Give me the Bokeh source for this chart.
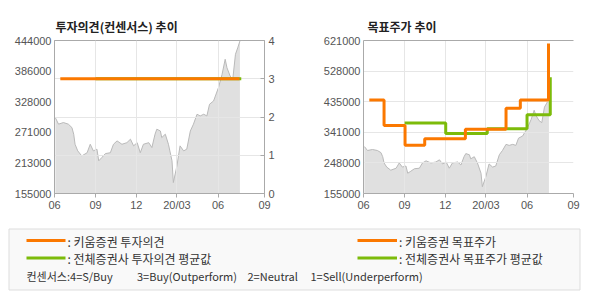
import pandas as pd
from bokeh.plotting import figure
from bokeh.models import Range1d, LinearAxis, FixedTicker, Grid, Title, BasicTickFormatter
from bokeh.layouts import column, row
from bokeh.embed import file_html
from bokeh.resources import INLINE
from bokeh.core.properties import value

# ---------------- data ----------------
price_dates = [
    "2019-06-03", "2019-06-10", "2019-06-21", "2019-07-02", "2019-07-10", "2019-07-14",
    "2019-07-17", "2019-07-23", "2019-08-01", "2019-08-13", "2019-08-20", "2019-08-27",
    "2019-09-04", "2019-09-08", "2019-09-15", "2019-09-23", "2019-10-04", "2019-10-11",
    "2019-10-19", "2019-10-30", "2019-11-10", "2019-11-18", "2019-11-25", "2019-12-03",
    "2019-12-10", "2019-12-17", "2019-12-29", "2020-01-05", "2020-01-12", "2020-01-16",
    "2020-01-24", "2020-01-27", "2020-02-04", "2020-02-11", "2020-02-19", "2020-02-22",
    "2020-03-01", "2020-03-08", "2020-03-16", "2020-03-23", "2020-03-31", "2020-04-07",
    "2020-04-15", "2020-04-22", "2020-04-30", "2020-05-07", "2020-05-13", "2020-05-22",
    "2020-06-02", "2020-06-10", "2020-06-17", "2020-06-21", "2020-06-28", "2020-07-04",
    "2020-07-10", "2020-07-15", "2020-07-20",
]
price_values = [
    298000, 286000, 289000, 286000, 279500, 267000,
    248000, 235500, 226000, 232000, 248000, 235500,
    238700, 216700, 223000, 230400, 232000, 248000,
    254400, 248000, 251000, 257600, 245000, 251000,
    232000, 248000, 251000, 241800, 267000, 276500,
    273000, 260600, 267000, 248000, 216700, 175700,
    207200, 245000, 235500, 238700, 273000, 286000,
    304700, 301500, 304700, 301500, 323600, 329800,
    355000, 380000, 408500, 392600, 377000, 370800,
    418000, 430000, 443000,
]

opinion_kiwoom_dates = ["2019-06-14", "2020-07-19"]
opinion_kiwoom_values = [3, 3]
opinion_all_dates = ["2019-09-01", "2020-07-23"]
opinion_all_values = [3, 3]

target_kiwoom_dates = ["2019-06-14", "2019-07-17", "2019-09-02", "2019-10-16",
                       "2020-01-15", "2020-04-15", "2020-05-17", "2020-07-19"]
target_kiwoom_values = [440000, 362000, 302000, 322000, 351000, 415000, 440000, 612000]
target_all_dates = ["2019-09-01", "2019-12-02", "2020-03-04", "2020-06-01", "2020-07-23"]
target_all_values = [370000, 338000, 352000, 395000, 509000]

x_tick_dates = ["2019-06-01", "2019-09-01", "2019-12-01", "2020-03-01", "2020-06-01", "2020-09-13"]
x_tick_labels = ["06", "09", "12", "20/03", "06", "09"]
left_price_ticks = [155000, 213000, 271000, 328000, 386000, 444000]
opinion_ticks = [0, 1, 2, 3, 4]
right_price_ticks = [155000, 248000, 341000, 435000, 528000, 621000]

title_left = "투자의견(컨센서스) 추이"
title_right = "목표주가 추이"
legend_labels = [": 키움증권 투자의견", ": 전체증권사 투자의견 평균값",
                 ": 키움증권 목표주가", ": 전체증권사 목표주가 평균값"]
footnote_parts = ["컨센서스:4=S/Buy", "3=Buy(Outperform)", "2=Neutral", "1=Sell(Underperform)"]

# ---------------- style ----------------
ORANGE = "#fb7800"
GREEN = "#7cbb0a"
AXIS = "#aaaaaa"
GRID = "#e6e6e6"
TICK_TXT = "#555555"
KFONT = "Noto Sans CJK KR"
NFONT = "Liberation Sans"

def ms(d):
    return int(pd.Timestamp(d).value // 10**6)

tick_ms = [ms(d) for d in x_tick_dates]
overrides = {t: lab for t, lab in zip(tick_ms, x_tick_labels)}

pdates = pd.to_datetime(price_dates)


def base_fig(ymin, ymax, yticks, border_left, border_right, title, title_offset):
    p = figure(width=295, height=220, output_backend="svg", toolbar_location=None,
               x_axis_type="datetime",
               x_range=Range1d(tick_ms[0], tick_ms[-1]),
               y_range=Range1d(ymin, ymax),
               min_border_left=border_left, min_border_right=border_right,
               min_border_top=40, min_border_bottom=27)
    p.title = Title(text=title, align="left", offset=title_offset,
                    text_font=KFONT, text_font_size="12px", text_font_style="bold",
                    text_color="#222222", standoff=12)
    p.background_fill_color = "white"
    p.border_fill_color = "white"
    xa = p.xaxis[0]
    xa.ticker = FixedTicker(ticks=tick_ms)
    xa.major_label_overrides = overrides
    xa.axis_line_color = AXIS
    xa.major_tick_line_color = AXIS
    xa.major_tick_out = 4
    xa.major_tick_in = 0
    xa.minor_tick_line_color = None
    xa.major_label_standoff = 1
    xa.major_label_text_font = NFONT
    xa.major_label_text_font_size = "11px"
    xa.major_label_text_color = TICK_TXT
    ya = p.yaxis[0]
    ya.ticker = FixedTicker(ticks=yticks)
    ya.formatter = BasicTickFormatter(use_scientific=False)
    ya.axis_line_color = AXIS
    ya.major_tick_line_color = None
    ya.major_tick_out = 0
    ya.major_tick_in = 0
    ya.minor_tick_line_color = None
    ya.major_label_standoff = 3
    ya.major_label_text_font = NFONT
    ya.major_label_text_font_size = "11px"
    ya.major_label_text_color = TICK_TXT
    p.xgrid.ticker = FixedTicker(ticks=tick_ms)
    p.xgrid.grid_line_color = GRID
    p.ygrid.ticker = FixedTicker(ticks=yticks)
    p.ygrid.grid_line_color = GRID
    p.outline_line_color = None
    # price area
    p.varea(x=pdates, y1=yticks[0], y2=price_values, fill_color="#e0e0e0", level="image")
    p.line(x=pdates, y=price_values, line_color="#b9b9b9", line_width=1, level="image")
    return p

# ---- left chart ----
p1 = base_fig(left_price_ticks[0], left_price_ticks[-1], left_price_ticks, 54, 31, title_left, 1)
p1.ygrid.visible = False
p1.outline_line_color = AXIS
p1.extra_y_ranges = {"op": Range1d(opinion_ticks[0], opinion_ticks[-1])}
ra = LinearAxis(y_range_name="op", ticker=FixedTicker(ticks=opinion_ticks))
ra.axis_line_color = AXIS
ra.major_tick_line_color = AXIS
ra.major_tick_in = 4
ra.major_tick_out = 0
ra.minor_tick_line_color = None
ra.major_label_standoff = 4
ra.major_label_text_font = NFONT
ra.major_label_text_font_size = "11px"
ra.major_label_text_color = TICK_TXT
p1.add_layout(ra, "right")
p1.add_layout(Grid(dimension=1, ticker=FixedTicker(ticks=opinion_ticks), y_range_name="op",
                   grid_line_color=GRID))
p1.step(x=pd.to_datetime(opinion_all_dates), y=opinion_all_values, mode="after",
        line_color=GREEN, line_width=3, y_range_name="op")
p1.step(x=pd.to_datetime(opinion_kiwoom_dates), y=opinion_kiwoom_values, mode="after",
        line_color=ORANGE, line_width=3, y_range_name="op")

# ---- right chart ----
p2 = base_fig(right_price_ticks[0], right_price_ticks[-1], right_price_ticks, 68, 17, title_right, 4)
ta = LinearAxis(ticker=FixedTicker(ticks=[]), axis_line_color=AXIS,
                major_tick_line_color=None, minor_tick_line_color=None,
                major_label_text_font_size="0px")
p2.add_layout(ta, "above")
p2.step(x=pd.to_datetime(target_all_dates), y=target_all_values, mode="after",
        line_color=GREEN, line_width=3)
p2.step(x=pd.to_datetime(target_kiwoom_dates), y=target_kiwoom_values, mode="after",
        line_color=ORANGE, line_width=3)

# ---- legend panel ----
p3 = figure(width=590, height=80, output_backend="svg", toolbar_location=None,
            x_range=Range1d(0, 590), y_range=Range1d(80, 0),
            min_border=0, x_axis_type=None, y_axis_type=None)
p3.grid.visible = False
p3.outline_line_color = None
p3.quad(left=[8.5], right=[579.5], top=[8.5], bottom=[69.5],
        fill_color="#f9f9f9", line_color="#dddddd", line_width=1)
seg_x0 = [26, 26, 357, 357]
seg_x1 = [65, 65, 396.5, 396.5]
seg_y = [20, 37.5, 20, 37.5]
seg_c = [ORANGE, GREEN, ORANGE, GREEN]
p3.segment(x0=seg_x0, y0=seg_y, x1=seg_x1, y1=seg_y, line_color=seg_c, line_width=3)
p3.text(x=[67, 67, 398.5, 398.5], y=[20.5, 38, 20.5, 38], text=legend_labels,
        text_font=value(KFONT), text_font_size="12px", text_baseline="middle",
        text_color="#333333")
p3.text(x=[26, 136.5, 247, 310], y=[55.5] * 4, text=footnote_parts,
        text_font=value(KFONT), text_font_size="11px", text_baseline="middle",
        text_color="#333333")

layout = column(row(p1, p2), p3)
open("out.html", "w").write(file_html(layout, INLINE))
